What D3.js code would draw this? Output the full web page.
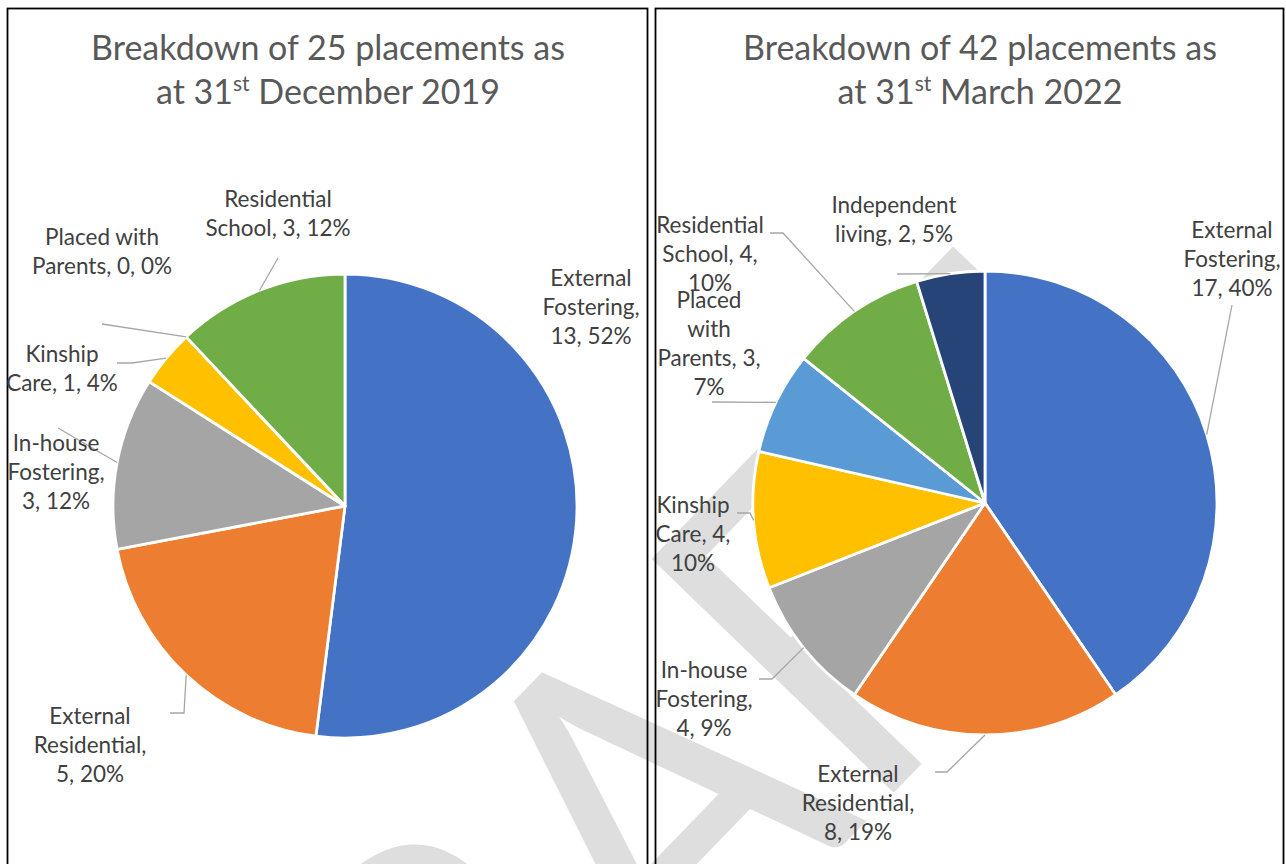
<!DOCTYPE html>
<html>
<head>
<meta charset="utf-8">
<script src="https://cdn.jsdelivr.net/npm/d3@7"></script>
<style>
  html, body { margin: 0; padding: 0; background: #ffffff; }
  svg { display: block; }
  text { font-family: Lato, "Open Sans", sans-serif; }
</style>
</head>
<body>
<svg id="chart" width="1286" height="864"></svg>
<script>
// ---- Placements at 31 December 2019 ----
const categories2019 = ["External Fostering", "External Residential", "In-house Fostering",
                        "Kinship Care", "Placed with Parents", "Residential School"];
const values2019 = [13, 5, 3, 1, 0, 3];
const percents2019 = ["52%", "20%", "12%", "4%", "0%", "12%"];

// ---- Placements at 31 March 2022 ----
const categories2022 = ["External Fostering", "External Residential", "In-house Fostering",
                        "Kinship Care", "Placed with Parents", "Residential School", "Independent living"];
const values2022 = [17, 8, 4, 4, 3, 4, 2];
const percents2022 = ["40%", "19%", "9%", "10%", "7%", "10%", "5%"];

// Title date parts: day, ordinal suffix, rest
const titleDates = [["31", "st", " December 2019"], ["31", "st", " March 2022"]];

// Slice colours per category
const sliceColours = {
  "External Fostering": "#4472C4",
  "External Residential": "#ED7D31",
  "In-house Fostering": "#A5A5A5",
  "Kinship Care": "#FFC000",
  "Placed with Parents": "#5B9BD5",
  "Residential School": "#70AD47",
  "Independent living": "#264478"
};

// Label placement relative to the pie centre: anchor x, first baseline y,
// words per line, and leader-line waypoints after the slice edge point.
const labelLayout2019 = [
  { x: 246,  y: -220, wrap: [1, 1, 2], leader: null },
  { x: -255, y: 218,  wrap: [1, 1, 2], leader: [[-161, 207], [-175, 207]] },
  { x: -289, y: -55,  wrap: [1, 1, 2], leader: [[-287, -78]] },
  { x: -283, y: -144, wrap: [1, 3],    leader: [[-213, -143], [-228, -143]] },
  { x: -243, y: -261, wrap: [2, 3],    leader: [[-243, -182]] },
  { x: -67,  y: -299, wrap: [1, 3],    leader: [[-67, -248]] }
];
const labelLayout2022 = [
  { x: 247,  y: -265, wrap: [1, 1, 2],    leader: [[247, -198]] },
  { x: -127, y: 279,  wrap: [1, 1, 2],    leader: [[-38, 269], [-50, 269]] },
  { x: -281, y: 175,  wrap: [1, 1, 2],    leader: [[-213, 176], [-226, 176]] },
  { x: -292, y: 10,   wrap: [1, 2, 1],    leader: [[-235, 10], [-248, 10]] },
  { x: -276, y: -195, wrap: [1, 1, 2, 1], leader: [[-273, -101]] },
  { x: -275, y: -270, wrap: [1, 2, 1],    leader: [[-202, -270], [-215, -270]] },
  { x: -91,  y: -290, wrap: [1, 3],       leader: [[-88, -229]] }
];

const panels = [
  { frame: [7.5, 8.5, 640], titleX: 328, centre: [345, 506],
    categories: categories2019, values: values2019, percents: percents2019,
    date: titleDates[0], layout: labelLayout2019 },
  { frame: [655.5, 8.5, 628], titleX: 980, centre: [985, 503],
    categories: categories2022, values: values2022, percents: percents2022,
    date: titleDates[1], layout: labelLayout2022 }
];

const R = 232;
const LINE_H = 29;
const svg = d3.select("#chart");

// Draft watermark sits beneath everything
svg.append("text")
  .attr("transform", "translate(737,955) rotate(-46) scale(0.88,1)")
  .attr("text-anchor", "middle")
  .attr("fill", "#dedede")
  .style("font-size", "470px")
  .text("DRAFT");

const pie = d3.pie().sort(null).value(d => d.value)
  .startAngle(0).endAngle(2 * Math.PI);
const arc = d3.arc().innerRadius(0).outerRadius(R);

panels.forEach(p => {
  const g = svg.append("g");

  // panel frame
  g.append("rect")
    .attr("x", p.frame[0]).attr("y", p.frame[1])
    .attr("width", p.frame[2]).attr("height", 900)
    .attr("fill", "none").attr("stroke", "#000").attr("stroke-width", 1.8);

  // title
  const total = d3.sum(p.values);
  const title = g.append("text")
    .attr("text-anchor", "middle")
    .attr("fill", "#595959")
    .style("font-size", "34px");
  title.append("tspan").attr("x", p.titleX).attr("y", 60)
    .text(`Breakdown of ${total} placements as`);
  const l2 = title.append("tspan").attr("x", p.titleX).attr("y", 104);
  l2.append("tspan").text("at " + p.date[0]);
  l2.append("tspan").attr("dy", -13).style("font-size", "21px").text(p.date[1]);
  l2.append("tspan").attr("dy", 13).text(p.date[2]);

  // pie
  const data = p.categories.map((c, i) => ({
    category: c, value: p.values[i], pct: p.percents[i], layout: p.layout[i]
  }));
  const arcs = pie(data);
  const pg = g.append("g").attr("transform", `translate(${p.centre[0]},${p.centre[1]})`);

  pg.selectAll("path.slice")
    .data(arcs)
    .join("path")
    .attr("class", "slice")
    .attr("d", arc)
    .attr("fill", d => sliceColours[d.data.category])
    .attr("stroke", "#ffffff")
    .attr("stroke-width", 2.8)
    .attr("stroke-linejoin", "round");

  // leader lines from the slice edge at mid angle
  arcs.forEach(d => {
    const L = d.data.layout;
    if (!L.leader) return;
    const a = (d.startAngle + d.endAngle) / 2;
    const pts = [[R * Math.sin(a), -R * Math.cos(a)], ...L.leader];
    pg.append("path")
      .attr("d", d3.line()(pts))
      .attr("fill", "none")
      .attr("stroke", "#a6a6a6")
      .attr("stroke-width", 1.3);
  });

  // data labels: "Category, value, pct" wrapped by word count
  arcs.forEach(d => {
    const L = d.data.layout;
    const words = `${d.data.category}, ${d.data.value}, ${d.data.pct}`.split(" ");
    const lines = [];
    let k = 0;
    L.wrap.forEach(n => { lines.push(words.slice(k, k + n).join(" ")); k += n; });
    const t = pg.append("text")
      .attr("text-anchor", "middle")
      .attr("fill", "#404040")
      .style("font-size", "22.5px");
    lines.forEach((s, i) => {
      t.append("tspan").attr("x", L.x).attr("y", L.y + i * LINE_H).text(s);
    });
  });
});
</script>
</body>
</html>
